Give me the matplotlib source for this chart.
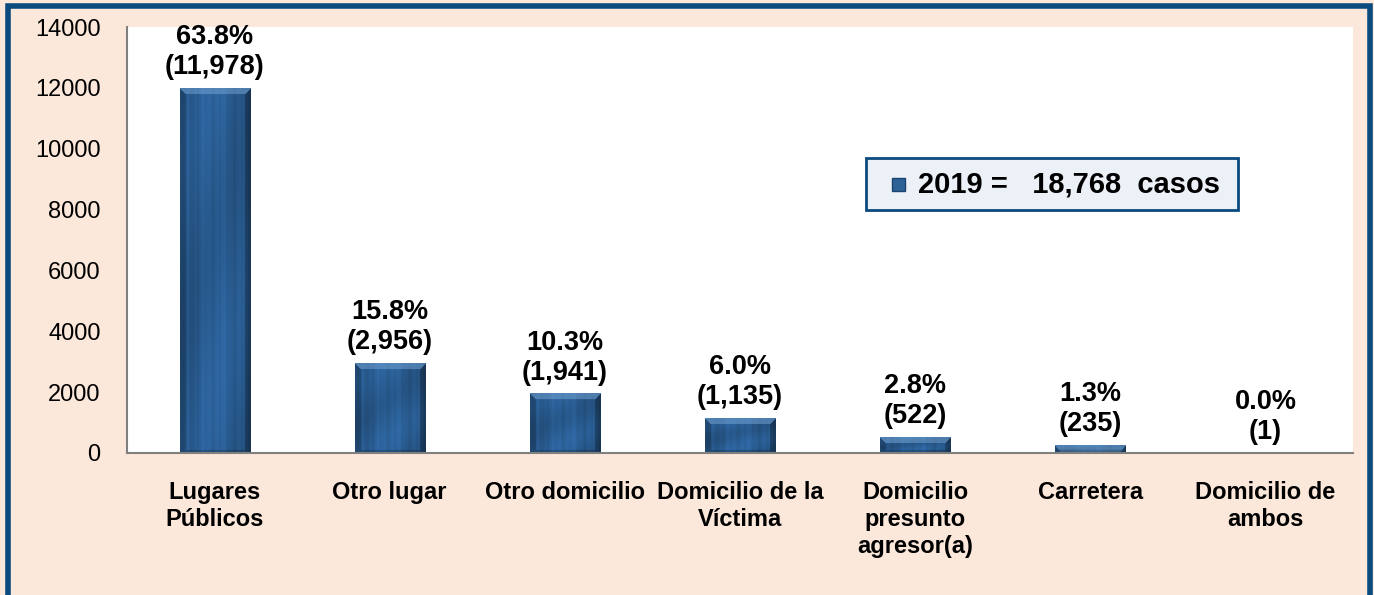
import matplotlib.pyplot as plt
import matplotlib.patches as mpatches
import numpy as np

plt.rcParams['font.family'] = ['Liberation Sans', 'DejaVu Sans']

categories = ['Lugares\nPúblicos', 'Otro lugar', 'Otro domicilio', 'Domicilio de la\nVíctima',
              'Domicilio\npresunto\nagresor(a)', 'Carretera', 'Domicilio de\nambos']
values = [11978, 2956, 1941, 1135, 522, 235, 1]
percents = ['63.8%', '15.8%', '10.3%', '6.0%', '2.8%', '1.3%', '0.0%']
counts = ['11,978', '2,956', '1,941', '1,135', '522', '235', '1']
yticks = [0, 2000, 4000, 6000, 8000, 10000, 12000, 14000]
legend_text = '2019 =   18,768  casos'

peach = '#FCE8DA'
border = '#0A4A7E'
ymax = 14000
bar_w = 0.4


def bar_texture(wpx, hpx):
    "blue textured block with a light bevel on top and darker sides"
    xs = np.linspace(0, 1, wpx)
    ys = np.linspace(0, 1, hpx)[:, None]
    streak = (0.04 * np.sin(xs * 23.0) + 0.03 * np.sin(xs * 61.0 + 1.3)
              + 0.02 * np.sin(xs * 119.0 + 0.7))
    base = 1.0 - 0.15 * np.abs(xs - 0.5) * 2 + streak
    shade = np.ones((hpx, wpx)) * base
    shade = shade * (0.95 + 0.06 * np.sin(ys * 7.0 + xs * 4.0))
    col = np.array([0.18, 0.40, 0.63])
    img = shade[..., None] * col
    bev = 6
    r = np.arange(hpx)[:, None]
    c = np.arange(wpx)[None, :]
    top = (r < bev) & (c >= r) & (c < wpx - r)
    left = (c < bev) & ~top
    right = (c >= wpx - bev) & ~top
    bottom = (r >= hpx - 3) & ~left & ~right
    img[top] = img[top] * 0.55 + np.array([0.50, 0.68, 0.86]) * 0.45
    img[left] = img[left] * 0.8
    img[right] = img[right] * 0.72
    img[bottom] = img[bottom] * 0.8
    return np.clip(img, 0, 1)


fig = plt.figure(figsize=(13.74, 5.95), dpi=100, facecolor=peach)
ax = fig.add_axes([0.0924, 0.2387, 0.8923, 0.7159])
ax.set_facecolor('white')

x = np.arange(len(values))
bars = ax.bar(x, values, width=bar_w, color='none', zorder=3)
ppx = 426 / ymax
for b in bars:
    h = b.get_height()
    hpx = max(2, int(round(h * ppx)))
    ax.imshow(bar_texture(70, hpx), extent=(b.get_x(), b.get_x() + bar_w, 0, h),
              aspect='auto', zorder=3, interpolation='bilinear')

for xi, v, p, c in zip(x, values, percents, counts):
    ax.annotate(f'{p}\n({c})', (xi, v), xytext=(0, 6), textcoords='offset points',
                ha='center', va='bottom', fontsize=19.5, fontweight='bold', linespacing=1.2)

ax.set_xlim(-0.5, len(values) - 0.5)
ax.set_ylim(0, ymax)
ax.set_yticks(yticks)
ax.set_yticklabels([str(t) for t in yticks], fontsize=17)
ax.set_xticks(x)
ax.set_xticklabels(categories, fontsize=17, fontweight='bold', linespacing=1.22, va='top')
ax.tick_params(axis='x', length=0, pad=20)
ax.tick_params(axis='y', length=0, pad=19)
for s in ['top', 'right']:
    ax.spines[s].set_visible(False)
ax.spines['left'].set_color('#808080')
ax.spines['bottom'].set_color('#808080')
ax.spines['left'].set_linewidth(1.5)
ax.spines['bottom'].set_linewidth(1.5)
ax.spines['bottom'].set_zorder(5)

# legend-like box
lx0, ly0, lw, lh = 866 / 1374, 1 - 210 / 595, 372 / 1374, 52 / 595
fig.patches.append(mpatches.Rectangle((lx0, ly0), lw, lh, transform=fig.transFigure,
                                      facecolor='#ECF1F8', edgecolor=border, linewidth=2))
fig.patches.append(mpatches.Rectangle((lx0 + 26 / 1374, ly0 + 19 / 595), 13 / 1374, 13 / 595,
                                      transform=fig.transFigure, facecolor='#2C6296',
                                      edgecolor='#1B4470', linewidth=1))
fig.text(lx0 + 52 / 1374, ly0 + lh / 2, legend_text, fontsize=21, fontweight='bold',
         va='center', ha='left')

# outer frame
fig.patches.append(mpatches.Rectangle((7.5 / 1374, -0.05), 1362 / 1374, 1.05 - 5.5 / 595,
                                      transform=fig.transFigure, fill=False,
                                      edgecolor=border, linewidth=4))

fig.savefig('out.png', dpi=100, facecolor=peach)
